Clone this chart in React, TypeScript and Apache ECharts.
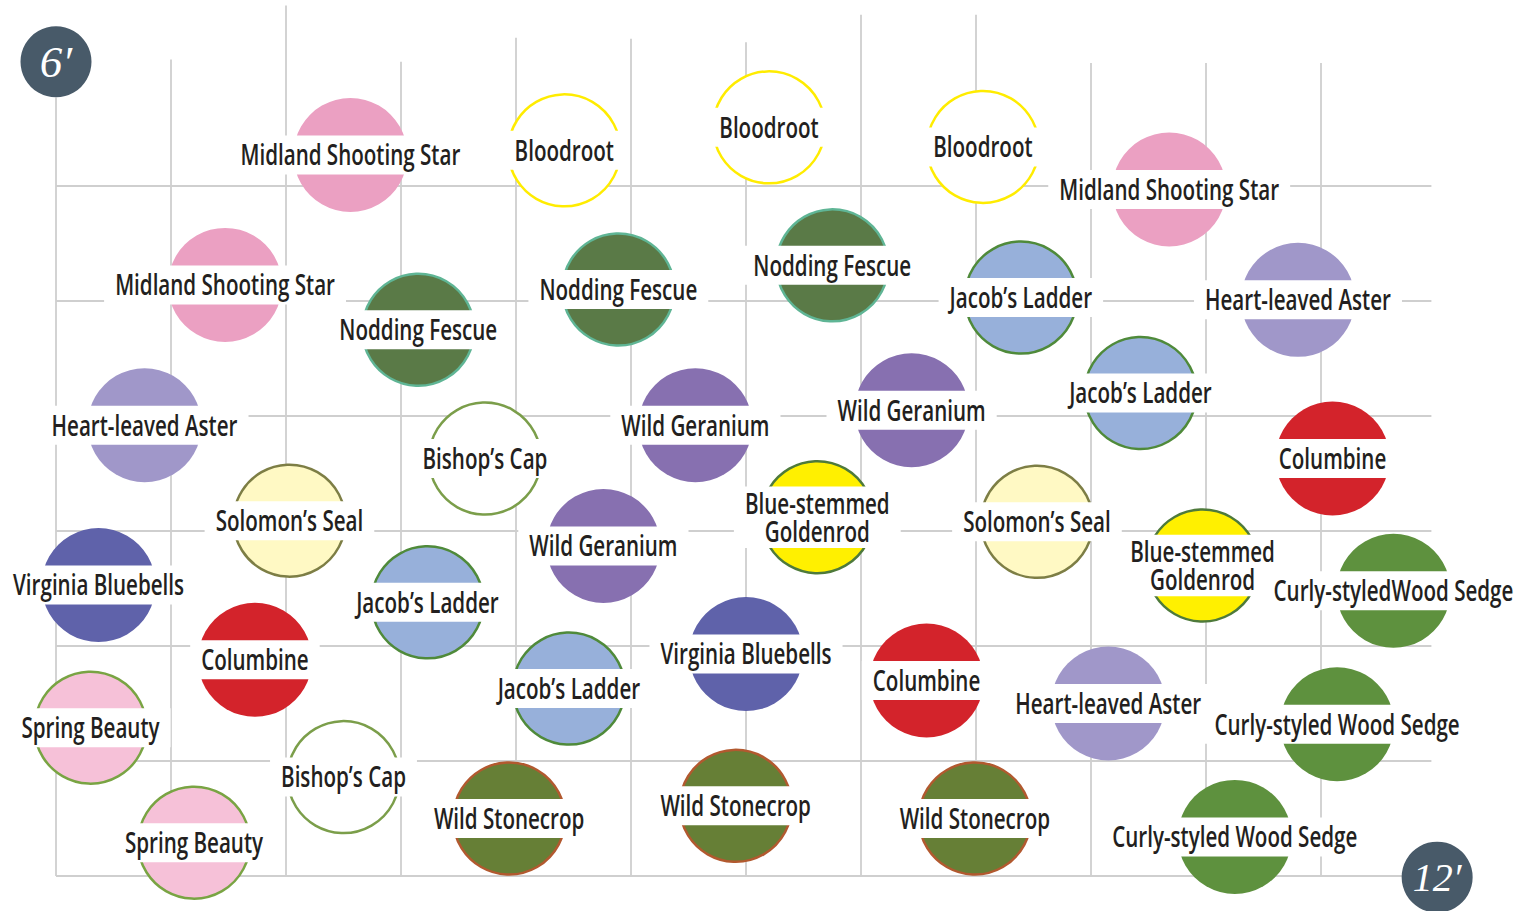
import React, { useEffect, useRef } from 'react';
import * as echarts from 'echarts';

// ---- grid (feet) ----
const gridColumns = [0, 1, 2, 3, 4, 5, 6, 7, 8, 9, 10, 11];
const columnTops = [6.77, 7.1, 7.57, 7.08, 7.29, 7.28, 7.25, 7.49, 7.49, 7.07, 7.07, 7.07];
const gridRows = [0, 1, 2, 3, 4, 5, 6];
const gridWidthFt = 11.96;

// ---- plant positions (feet: x from left, y from bottom) ----
const midlandShootingStar = [[2.56, 6.27], [9.68, 5.97], [1.47, 5.14]];
const bloodroot = [[4.42, 6.31], [6.2, 6.51], [8.06, 6.34]];
const noddingFescue = [[3.15, 4.75], [4.89, 5.1], [6.75, 5.31]];
const jacobsLadder = [[8.39, 5.03], [9.43, 4.2], [3.23, 2.38], [4.46, 1.63]];
const heartLeavedAster = [[10.8, 5.01], [0.77, 3.92], [9.15, 1.5]];
const bishopsCap = [[3.73, 3.63], [2.5, 0.86]];
const wildGeranium = [[5.56, 3.92], [7.44, 4.05], [4.76, 2.87]];
const columbine = [[11.1, 3.63], [1.73, 1.88], [7.57, 1.7]];
const solomonsSeal = [[2.03, 3.09], [8.53, 3.08]];
const blueStemmedGoldenrod = [[6.62, 3.12], [9.97, 2.7]];
const curlyStyledWoodSedge = [[11.63, 2.48], [11.14, 1.32], [10.25, 0.34]];
const virginiaBluebells = [[0.37, 2.53], [6.0, 1.93]];
const springBeauty = [[0.3, 1.29], [1.2, 0.29]];
const wildStonecrop = [[3.94, 0.5], [5.91, 0.61], [7.99, 0.5]];

const speciesNames = [
  'Midland Shooting Star', 'Bloodroot', 'Nodding Fescue', 'Jacob’s Ladder', 'Heart-leaved Aster',
  'Bishop’s Cap', 'Wild Geranium', 'Columbine', 'Solomon’s Seal', 'Blue-stemmed\nGoldenrod',
  'Curly-styled Wood Sedge', 'Virginia Bluebells', 'Spring Beauty', 'Wild Stonecrop',
];
const speciesPoints = [
  midlandShootingStar, bloodroot, noddingFescue, jacobsLadder, heartLeavedAster,
  bishopsCap, wildGeranium, columbine, solomonsSeal, blueStemmedGoldenrod,
  curlyStyledWoodSedge, virginiaBluebells, springBeauty, wildStonecrop,
];
const curlyStyledWoodSedgeLabels = ['Curly-styledWood Sedge', 'Curly-styled Wood Sedge', 'Curly-styled Wood Sedge'];

// ---- corner badges ----
const badgeLabels = ['6′', '12′'];
const badgePositions = [[0, 7.08], [12.01, -0.01]];

// ---- styles ----
const speciesFill = [
  '#EBA0C2', '#FFFFFF', '#5A7A47', '#97B0DA', '#A097C9',
  '#FFFFFF', '#8770B0', '#D3232B', '#FFF9C4', '#FFF000',
  '#5E913E', '#5F62AA', '#F6C1D8', '#667F36',
];
const speciesStroke = [
  null, '#FFEC00', '#5FB595', '#4F8A3A', null,
  '#7B9E4A', null, null, '#7D7E45', '#4E7A3B',
  null, null, '#79A443', '#B2592F',
];

const LABEL_FONT_FAMILY = "'Open Sans', 'Noto Sans', sans-serif";
const LABEL_FONT_WEIGHT = 600;
const LABEL_FONT_SIZE = 28;
const LABEL_SCALE_X = 0.735;
const LABEL_LINE_H = 28;
const LABEL_PAD_X = 11;
const GRID_COLOR = '#CFCFCF';

let measureCtx: CanvasRenderingContext2D | null = null;
function measure(text: string): number {
  if (!measureCtx) {
    const c = document.createElement('canvas');
    measureCtx = c.getContext('2d');
  }
  if (!measureCtx) return text.length * 14;
  measureCtx.font = `normal ${LABEL_FONT_WEIGHT} ${LABEL_FONT_SIZE}px ${LABEL_FONT_FAMILY}`;
  return measureCtx.measureText(text).width;
}

export default function App() {
  const ref = useRef<HTMLDivElement>(null);

  useEffect(() => {
    if (!ref.current) return;
    const chart = echarts.init(ref.current, undefined, { renderer: 'svg' });

    const series: any[] = [];

    series.push({
      type: 'custom',
      name: 'columns',
      z: 1,
      silent: true,
      clip: false,
      data: gridColumns.map((x, i) => [x, columnTops[i]]),
      renderItem: (_p: any, api: any) => {
        const a = api.coord([api.value(0), 0]);
        const b = api.coord([api.value(0), api.value(1)]);
        return {
          type: 'line',
          shape: { x1: a[0], y1: a[1], x2: b[0], y2: b[1] },
          style: { stroke: GRID_COLOR, lineWidth: 1.8 },
        };
      },
    });

    series.push({
      type: 'custom',
      name: 'rows',
      z: 1,
      silent: true,
      clip: false,
      data: gridRows.map((y) => [0, y, gridWidthFt]),
      renderItem: (_p: any, api: any) => {
        const a = api.coord([api.value(0), api.value(1)]);
        const b = api.coord([api.value(2), api.value(1)]);
        return {
          type: 'line',
          shape: { x1: a[0], y1: a[1], x2: b[0], y2: b[1] },
          style: { stroke: GRID_COLOR, lineWidth: 1.8 },
        };
      },
    });

    speciesNames.forEach((name, i) => {
      const stroke = speciesStroke[i];
      series.push({
        type: 'scatter',
        name: name + ' circles',
        z: 2,
        silent: true,
        clip: false,
        symbol: 'circle',
        symbolSize: stroke ? 112 : 114,
        itemStyle: {
          color: speciesFill[i],
          borderColor: stroke || speciesFill[i],
          borderWidth: stroke ? 2.5 : 0,
          opacity: 1,
        },
        emphasis: { disabled: true },
        data: speciesPoints[i],
      });
    });

    speciesNames.forEach((name, i) => {
      const labels = name === 'Curly-styled Wood Sedge' ? curlyStyledWoodSedgeLabels : null;
      series.push({
        type: 'custom',
        name: name + ' labels',
        z: 3,
        silent: true,
        clip: false,
        data: speciesPoints[i],
        renderItem: (params: any, api: any) => {
          const text = labels ? labels[params.dataIndex] : name;
          const lines = text.split('\n');
          const w = Math.max(...lines.map(measure)) * LABEL_SCALE_X + LABEL_PAD_X * 2;
          const h = 39 + (lines.length - 1) * 22.5;
          const c = api.coord([api.value(0), api.value(1)]);
          return {
            type: 'group',
            x: c[0],
            y: c[1],
            children: [
              {
                type: 'rect',
                shape: { x: -w / 2, y: -h / 2, width: w, height: h },
                style: { fill: '#FFFFFF' },
              },
              {
                type: 'text',
                x: 0,
                y: -0.5,
                scaleX: LABEL_SCALE_X,
                style: {
                  text,
                  fill: '#231F20',
                  fontFamily: LABEL_FONT_FAMILY,
                  fontWeight: LABEL_FONT_WEIGHT,
                  fontSize: LABEL_FONT_SIZE,
                  lineHeight: LABEL_LINE_H,
                  align: 'center',
                  verticalAlign: 'middle',
                },
              },
            ],
          };
        },
      });
    });

    series.push({
      type: 'scatter',
      name: 'badges',
      z: 4,
      silent: true,
      clip: false,
      symbol: 'circle',
      symbolSize: 71,
      itemStyle: { color: '#485A69', opacity: 1 },
      emphasis: { disabled: true },
      data: badgePositions.map((p, i) => ({
        value: p,
        name: badgeLabels[i],
        label: { fontSize: i === 0 ? 45 : 40 },
      })),
      label: {
        show: true,
        position: 'inside',
        formatter: '{b}',
        color: '#FFFFFF',
        fontFamily: "'Liberation Serif', 'DejaVu Serif', serif",
        fontStyle: 'italic',
        fontSize: 42,
      },
    });

    chart.setOption({
      animation: false,
      backgroundColor: '#FFFFFF',
      grid: { left: 56, right: 94, top: 2, bottom: 35, containLabel: false },
      xAxis: {
        type: 'value', min: 0, max: 12,
        axisLine: { show: false }, axisTick: { show: false }, axisLabel: { show: false }, splitLine: { show: false },
      },
      yAxis: {
        type: 'value', min: 0, max: 7.6,
        axisLine: { show: false }, axisTick: { show: false }, axisLabel: { show: false }, splitLine: { show: false },
      },
      series,
    });

    return () => chart.dispose();
  }, []);

  return (
    <div
      ref={ref}
      style={{ position: 'absolute', left: 0, top: 0, width: 1530, height: 911, background: '#fff' }}
    />
  );
}
